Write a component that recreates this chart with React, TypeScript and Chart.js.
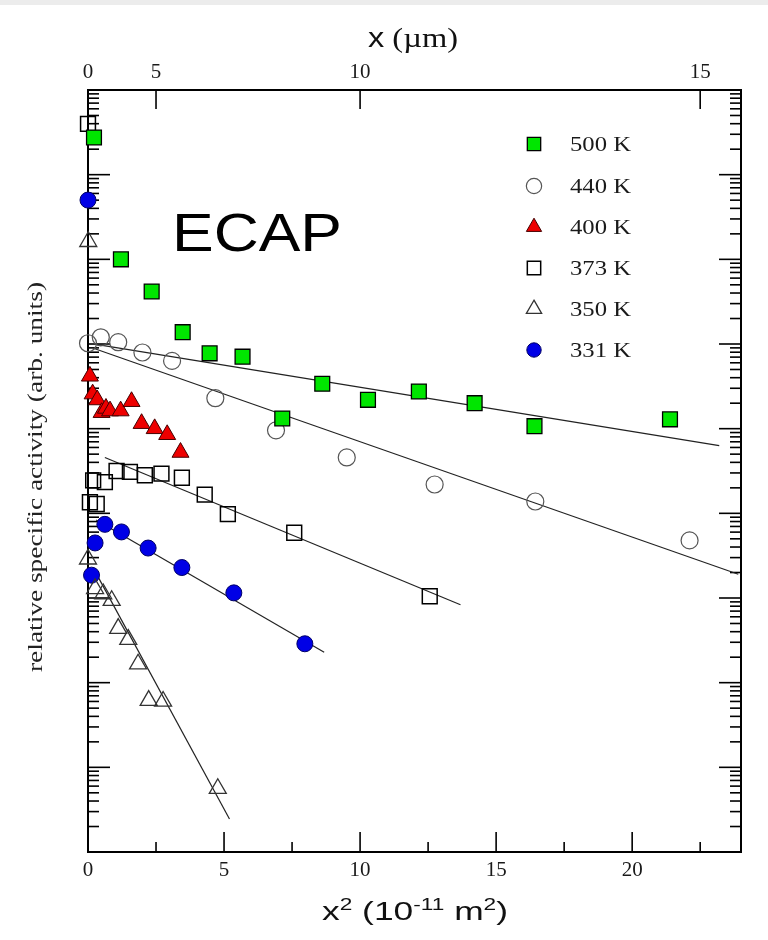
import React, { useEffect, useRef } from 'react';
import { Chart, registerables } from 'chart.js';
import { drawPoint } from 'chart.js/helpers';

Chart.register(...registerables);

// ---- axis / tick data ----
const bottomTicks = [0, 5, 10, 15, 20];
const bottomMinorTicks = [2.5, 7.5, 12.5, 17.5, 22.5];
const topTicksX2 = [0, 2.5, 10, 22.5]; // x² positions of x = 0, 5, 10, 15 µm
const topTickLabels = ['0', '5', '10', '15'];
const legendLabels = ['500 K', '440 K', '400 K', '373 K', '350 K', '331 K'];

// ---- series (x² in 1e-11 m², relative activity) ----
const x500 = [0.22, 1.21, 2.34, 3.48, 4.47, 5.68, 7.14, 8.61, 10.29, 12.16, 14.21, 16.41, 21.39];
const y500 = [2.75e8, 1.0e7, 4.17e6, 1.38e6, 7.76e5, 7.08e5, 1.32e5, 3.39e5, 2.19e5, 2.75e5, 2.0e5, 1.07e5, 1.29e5];

const x440 = [0.0, 0.47, 1.11, 2.0, 3.09, 4.68, 6.91, 9.51, 12.74, 16.44, 22.11];
const y440 = [1.02e6, 1.2e6, 1.05e6, 7.94e5, 6.31e5, 2.29e5, 9.55e4, 4.57e4, 2.19e4, 1.38e4, 4.79e3];

const x400 = [0.07, 0.17, 0.34, 0.5, 0.66, 0.81, 1.2, 1.6, 1.97, 2.45, 2.91, 3.4];
const y400 = [4.17e5, 2.57e5, 2.19e5, 1.55e5, 1.74e5, 1.62e5, 1.62e5, 2.09e5, 1.15e5, 1.0e5, 8.51e4, 5.25e4];

const x373 = [0.0, 0.07, 0.32, 0.19, 0.62, 1.05, 1.54, 2.09, 2.7, 3.45, 4.29, 5.14, 7.58, 12.56];
const y373 = [3.98e8, 1.35e4, 1.29e4, 2.45e4, 2.34e4, 3.16e4, 3.09e4, 2.82e4, 2.95e4, 2.63e4, 1.66e4, 9.77e3, 5.89e3, 1.05e3];

const x350 = [0.01, 0.0, 0.26, 0.56, 0.87, 1.11, 1.48, 1.84, 2.23, 2.76, 4.77];
const y350 = [1.62e7, 2.88e3, 1.29e3, 1.12e3, 9.33e2, 4.37e2, 3.24e2, 1.66e2, 61.7, 60.3, 5.62];

const x331 = [0.0, 0.13, 0.26, 0.62, 1.23, 2.21, 3.45, 5.36, 7.97];
const y331 = [5.01e7, 1.86e3, 4.47e3, 7.41e3, 6.03e3, 3.89e3, 2.29e3, 1.15e3, 288];

// ---- fitted lines ----
const fit500X = [0.3, 23.2];
const fit500Y = [9.9e5, 6.31e4];
const fit440X = [0.2, 23.9];
const fit440Y = [8.91e5, 1.91e3];
const fit373X = [0.62, 13.69];
const fit373Y = [4.57e4, 832];
const fit350X = [0.2, 5.2];
const fit350Y = [2.24e3, 2.45];
const fit331X = [0.3, 8.68];
const fit331Y = [8.32e3, 229];

const zip = (xs: number[], ys: number[]) => xs.map((x, i) => ({ x, y: ys[i] }));

const SERIF = "'Liberation Serif', 'DejaVu Serif', serif";
const SANS = "'Liberation Sans', Arial, sans-serif";

const markerStyles = [
  { pointStyle: 'rect', radius: 10.5, backgroundColor: '#00e600', borderColor: '#000000', borderWidth: 1.3 },
  { pointStyle: 'circle', radius: 8.5, backgroundColor: 'rgba(0,0,0,0)', borderColor: '#555555', borderWidth: 1.2 },
  { pointStyle: 'triangle', radius: 9.8, backgroundColor: '#ee0000', borderColor: '#440000', borderWidth: 1 },
  { pointStyle: 'rect', radius: 10.5, backgroundColor: 'rgba(0,0,0,0)', borderColor: '#000000', borderWidth: 1.5 },
  { pointStyle: 'triangle', radius: 9.8, backgroundColor: 'rgba(0,0,0,0)', borderColor: '#333333', borderWidth: 1.3 },
  { pointStyle: 'circle', radius: 8, backgroundColor: '#0000e6', borderColor: '#000066', borderWidth: 1 },
];

type Run = { text: string; font: string; dy?: number };

// draw a sequence of text runs centred at (cx, baseline), stretched to targetWidth
function drawRuns(ctx: CanvasRenderingContext2D, runs: Run[], cx: number, baseline: number, targetWidth: number) {
  let total = 0;
  runs.forEach((r) => {
    ctx.font = r.font;
    total += ctx.measureText(r.text).width;
  });
  const sx = targetWidth / total;
  ctx.save();
  ctx.translate(cx, baseline);
  ctx.scale(sx, 1);
  let x = -total / 2;
  ctx.textAlign = 'left';
  runs.forEach((r) => {
    ctx.font = r.font;
    ctx.fillText(r.text, x, r.dy || 0);
    x += ctx.measureText(r.text).width;
  });
  ctx.restore();
}

const framePlugin = {
  id: 'frameTicks',
  beforeDraw(chart: any) {
    const { ctx, width, height } = chart;
    ctx.save();
    ctx.fillStyle = '#ffffff';
    ctx.fillRect(0, 0, width, height);
    ctx.fillStyle = '#ececec';
    ctx.fillRect(0, 0, width, 5);
    ctx.restore();
  },
  beforeDatasetsDraw(chart: any) {
    const { ctx, chartArea: a, scales } = chart;
    const y = scales.y;
    const x = scales.x;
    ctx.save();
    ctx.strokeStyle = '#000';
    ctx.lineWidth = 1.6;
    const line = (x1: number, y1: number, x2: number, y2: number) => {
      ctx.beginPath();
      ctx.moveTo(x1, y1);
      ctx.lineTo(x2, y2);
      ctx.stroke();
    };
    for (let e = 0; e < 9; e++) {
      for (let k = 1; k <= 9; k++) {
        const v = k * Math.pow(10, e);
        if (v <= 1 || v >= 1e9) continue;
        const p = y.getPixelForValue(v);
        const len = k === 1 ? 22 : 11;
        line(a.left, p, a.left + len, p);
        line(a.right, p, a.right - len, p);
      }
    }
    bottomTicks.forEach((v) => {
      if (v === 0) return;
      const p = x.getPixelForValue(v);
      line(p, a.bottom, p, a.bottom - 20);
    });
    bottomMinorTicks.forEach((v) => {
      const p = x.getPixelForValue(v);
      line(p, a.bottom, p, a.bottom - 10);
    });
    const x2 = scales.x2;
    topTicksX2.forEach((v) => {
      if (v === 0) return;
      const p = x2.getPixelForValue(v);
      line(p, a.top, p, a.top + 19);
    });
    ctx.lineWidth = 2;
    ctx.strokeRect(a.left, a.top, a.right - a.left, a.bottom - a.top);
    ctx.restore();
  },
  afterDraw(chart: any) {
    const { ctx } = chart;
    ctx.save();
    ctx.textBaseline = 'alphabetic';
    // ECAP label
    ctx.fillStyle = '#000';
    drawRuns(ctx, [{ text: 'ECAP', font: `54px ${SANS}` }], 257, 251, 170);

    // axis titles
    ctx.fillStyle = '#111';
    drawRuns(
      ctx,
      [
        { text: 'x', font: `27px ${SANS}` },
        { text: ' (µm)', font: `27px ${SERIF}` },
      ],
      413,
      47,
      90
    );
    drawRuns(
      ctx,
      [
        { text: 'x', font: `25px ${SANS}` },
        { text: '2', font: `16px ${SANS}`, dy: -10 },
        { text: ' (10', font: `25px ${SANS}` },
        { text: '-11', font: `16px ${SANS}`, dy: -10 },
        { text: ' m', font: `25px ${SANS}` },
        { text: '2', font: `16px ${SANS}`, dy: -10 },
        { text: ')', font: `25px ${SANS}` },
      ],
      415,
      920,
      186
    );
    ctx.save();
    ctx.translate(36, 477);
    ctx.rotate(-Math.PI / 2);
    ctx.textBaseline = 'middle';
    ctx.fillStyle = '#222';
    drawRuns(ctx, [{ text: 'relative specific activity (arb. units)', font: `22px ${SERIF}` }], 0, 0, 390);
    ctx.restore();

    // legend
    const rows = [144, 186, 227, 268, 309, 350];
    ctx.font = `22px ${SERIF}`;
    const sx = 61 / ctx.measureText('500 K').width;
    legendLabels.forEach((lab, i) => {
      const s = markerStyles[i];
      ctx.save();
      ctx.fillStyle = s.backgroundColor;
      ctx.strokeStyle = s.borderColor;
      ctx.lineWidth = s.borderWidth;
      drawPoint(ctx, { pointStyle: s.pointStyle, radius: s.radius * 0.9, rotation: 0, borderWidth: s.borderWidth }, 534, rows[i]);
      ctx.restore();
      ctx.save();
      ctx.fillStyle = '#1a1a1a';
      ctx.font = `22px ${SERIF}`;
      ctx.textBaseline = 'middle';
      ctx.translate(570, rows[i] + 1);
      ctx.scale(sx, 1);
      ctx.fillText(lab, 0, 0);
      ctx.restore();
    });
    ctx.restore();
  },
};

function scatterSet(label: string, xs: number[], ys: number[], i: number) {
  const s = markerStyles[i];
  return {
    type: 'scatter',
    label,
    data: zip(xs, ys),
    showLine: false,
    pointStyle: s.pointStyle,
    pointRadius: s.radius,
    pointBackgroundColor: s.backgroundColor,
    pointBorderColor: s.borderColor,
    pointBorderWidth: s.borderWidth,
    clip: false,
    xAxisID: 'x',
    yAxisID: 'y',
  };
}

function fitSet(xs: number[], ys: number[]) {
  return {
    type: 'scatter',
    label: 'fit',
    data: zip(xs, ys),
    showLine: true,
    borderColor: '#222222',
    borderWidth: 1.2,
    pointRadius: 0,
    fill: false,
    clip: false,
    xAxisID: 'x',
    yAxisID: 'y',
  };
}

export default function App() {
  const ref = useRef<HTMLCanvasElement | null>(null);
  useEffect(() => {
    document.body.style.margin = '0';
    const canvas = ref.current;
    if (!canvas) return;
    const chart = new Chart(canvas, {
      type: 'scatter',
      data: {
        datasets: [
          scatterSet('500 K', x500, y500, 0),
          scatterSet('440 K', x440, y440, 1),
          scatterSet('400 K', x400, y400, 2),
          scatterSet('373 K', x373, y373, 3),
          scatterSet('350 K', x350, y350, 4),
          scatterSet('331 K', x331, y331, 5),
          fitSet(fit500X, fit500Y),
          fitSet(fit440X, fit440Y),
          fitSet(fit373X, fit373Y),
          fitSet(fit350X, fit350Y),
          fitSet(fit331X, fit331Y),
        ] as any,
      },
      options: {
        responsive: false,
        animation: false,
        events: [],
        devicePixelRatio: 1,
        layout: { padding: { left: 0, right: 27, top: 0, bottom: 0 } },
        plugins: { legend: { display: false }, tooltip: { enabled: false } },
        scales: {
          x: {
            type: 'linear',
            position: 'bottom',
            min: 0,
            max: 24,
            afterBuildTicks: (s: any) => {
              s.ticks = bottomTicks.map((v) => ({ value: v }));
            },
            afterFit: (s: any) => {
              s.height = 88;
            },
            ticks: {
              autoSkip: false,
              maxRotation: 0,
              padding: 6,
              color: '#1a1a1a',
              font: { family: SERIF, size: 21 },
              callback: (v: any) => String(v),
            },
            grid: { display: false, drawTicks: false },
            border: { display: false },
            title: { display: false },
          },
          x2: {
            type: 'linear',
            position: 'top',
            min: 0,
            max: 24,
            afterBuildTicks: (s: any) => {
              s.ticks = topTicksX2.map((v) => ({ value: v }));
            },
            afterFit: (s: any) => {
              s.height = 90;
            },
            ticks: {
              autoSkip: false,
              maxRotation: 0,
              padding: 5,
              color: '#1a1a1a',
              font: { family: SERIF, size: 21 },
              callback: (_v: any, i: number) => topTickLabels[i],
            },
            grid: { display: false, drawTicks: false },
            border: { display: false },
            title: { display: false },
          },
          y: {
            type: 'logarithmic',
            position: 'left',
            min: 1,
            max: 1e9,
            afterFit: (s: any) => {
              s.width = 88;
            },
            ticks: { display: false },
            grid: { display: false, drawTicks: false },
            border: { display: false },
            title: { display: false },
          },
        },
      } as any,
      plugins: [framePlugin],
    });
    return () => chart.destroy();
  }, []);
  return <canvas ref={ref} width={768} height={940} style={{ display: 'block', width: 768, height: 940 }} />;
}
